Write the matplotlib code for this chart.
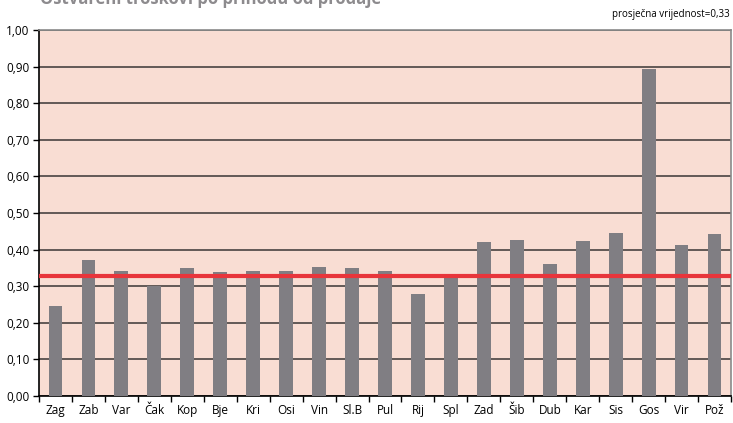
import matplotlib
matplotlib.use("Agg")
import matplotlib.pyplot as plt
import numpy as np
from matplotlib.ticker import FuncFormatter

gradovi = ["Zag", "Zab", "Var", "Čak", "Kop", "Bje", "Kri", "Osi", "Vin", "Sl.B", "Pul",
           "Rij", "Spl", "Zad", "Šib", "Dub", "Kar", "Sis", "Gos", "Vir", "Pož"]
vrijednosti = [0.246, 0.372, 0.342, 0.300, 0.349, 0.338, 0.341, 0.341, 0.352, 0.349, 0.341,
               0.278, 0.333, 0.421, 0.426, 0.361, 0.424, 0.446, 0.894, 0.413, 0.443]
prosjek = 0.329

plt.rcParams['font.family'] = ['Open Sans', 'DejaVu Sans']

fig = plt.figure(figsize=(7.33, 4.23), dpi=100)
ax = fig.add_axes([39/733, 27/423, 692/733, 366/423])
ax.set_facecolor('#f9ddd3')

x = np.arange(len(gradovi))
ax.bar(x, vrijednosti, width=0.42, color='#807e83', zorder=3)
ax.axhline(prosjek, color='#e8353b', lw=3, zorder=4)

ax.set_xlim(-0.5, len(gradovi) - 0.5)
ax.set_ylim(0, 1.0)
ax.set_yticks(np.arange(0, 1.01, 0.1))
ax.yaxis.set_major_formatter(FuncFormatter(lambda v, p: f"{v:.2f}".replace('.', ',')))
ax.grid(axis='y', color='#3a3535', lw=1.1, zorder=2)

ax.set_xticks(np.arange(-0.5, len(gradovi), 1))
ax.set_xticklabels([])
ax.set_xticks(x, minor=True)
ax.set_xticklabels(gradovi, minor=True)
ax.tick_params(axis='x', which='minor', length=0, labelsize=8.5, pad=6)
ax.tick_params(axis='x', which='major', direction='out', length=4, width=1)
ax.tick_params(axis='y', direction='out', length=4, width=1, labelsize=8.5, pad=3)

for s in ['left', 'bottom']:
    ax.spines[s].set_color('black')
    ax.spines[s].set_linewidth(1.2)
for s in ['top', 'right']:
    ax.spines[s].set_color('#8a8a8a')
    ax.spines[s].set_linewidth(1.2)

fig.text(40/733, 1 - 4/423, "Ostvareni troškovi po prihodu od prodaje", fontsize=12,
         fontweight='bold', color='#8d8b8e', ha='left', va='baseline')
fig.text(730/733, 1 - 17/423, "prosječna vrijednost=0,33", fontsize=7, ha='right',
         va='baseline', color='black')

fig.savefig("out.png", dpi=100)
